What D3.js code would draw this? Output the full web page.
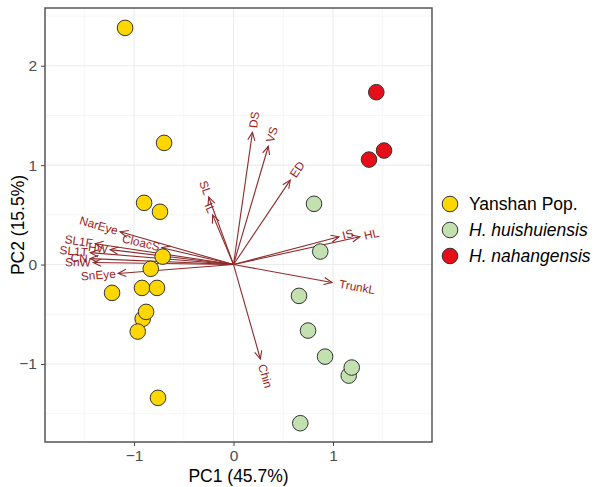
<!DOCTYPE html>
<html>
<head>
<meta charset="utf-8">
<script src="https://cdn.jsdelivr.net/npm/d3@7"></script>
<style>
  body { margin: 0; background: #fff; }
  svg { font-family: "Liberation Sans", Arial, sans-serif; }
</style>
</head>
<body>
<div id="chart"></div>
<script>
// groups, in legend order
var groups = ['Yanshan Pop.', 'H. huishuiensis', 'H. nahangensis'];
var groupColors = ['#FFD700', '#C3E0B1', '#E60F19'];
var groupItalic = [false, true, true];

// individual scores (PC1, PC2)
var yanshanPC1 = [-1.090, -0.698, -0.899, -0.739, -0.712, -0.832, -1.221, -0.920, -0.769, -0.913, -0.879, -0.963, -0.759];
var yanshanPC2 = [2.381, 1.224, 0.621, 0.531, 0.080, -0.043, -0.285, -0.235, -0.235, -0.546, -0.476, -0.674, -1.341];
var huishuiPC1 = [0.809, 0.872, 0.658, 0.749, 0.920, 1.158, 1.188, 0.671];
var huishuiPC2 = [0.611, 0.131, -0.315, -0.664, -0.926, -1.117, -1.036, -1.596];
var nahangPC1 = [1.513, 1.435, 1.362];
var nahangPC2 = [1.147, 1.734, 1.056];

// variable loadings
var varNames = ['DS', 'VS', 'ED', 'SL', 'IL', 'IS', 'HL', 'TrunkL', 'Chin',
  'NarEye', 'CloacS', 'SL1F', 'HW', 'SL1T', 'CN', 'SnW', 'SnEye'];
var varPC1 = [0.19, 0.35, 0.57, -0.25, -0.21, 1.06, 1.27, 0.99, 0.27,
  -1.14, -0.72, -1.39, -1.24, -1.44, -1.44, -1.41, -1.16];
var varPC2 = [1.33, 1.19, 0.85, 0.68, 0.50, 0.28, 0.28, -0.18, -0.95,
  0.33, 0.17, 0.21, 0.15, 0.12, 0.06, 0.02, -0.09];

var xTicks = [-1, 0, 1],
  yTicks = [-1, 0, 1, 2];

var svgWidth = 595,
  svgHeight = 487;

var panel = { left: 45, right: 432, top: 8, bottom: 442 };

var xScale = d3.scaleLinear().domain([-1.895, 1.995]).range([panel.left, panel.right]);
var yScale = d3.scaleLinear().domain([-1.785, 2.581]).range([panel.bottom, panel.top]);

var svg = d3.select('#chart').append('svg')
  .attr('width', svgWidth)
  .attr('height', svgHeight);

// panel background + grid
svg.append('rect')
  .attr('x', panel.left).attr('y', panel.top)
  .attr('width', panel.right - panel.left).attr('height', panel.bottom - panel.top)
  .attr('fill', '#fff');

var minorX = d3.range(-1.5, 2, 1),
  minorY = d3.range(-1.5, 3, 1);

var grid = svg.append('g');
grid.selectAll('.mx').data(minorX).enter().append('line')
  .attr('x1', d => xScale(d)).attr('x2', d => xScale(d))
  .attr('y1', panel.top).attr('y2', panel.bottom)
  .attr('stroke', '#f4f4f4').attr('stroke-width', 0.8);
grid.selectAll('.my').data(minorY).enter().append('line')
  .attr('y1', d => yScale(d)).attr('y2', d => yScale(d))
  .attr('x1', panel.left).attr('x2', panel.right)
  .attr('stroke', '#f4f4f4').attr('stroke-width', 0.8);
grid.selectAll('.gx').data(xTicks).enter().append('line')
  .attr('x1', d => xScale(d)).attr('x2', d => xScale(d))
  .attr('y1', panel.top).attr('y2', panel.bottom)
  .attr('stroke', '#ececec').attr('stroke-width', 1.1);
grid.selectAll('.gy').data(yTicks).enter().append('line')
  .attr('y1', d => yScale(d)).attr('y2', d => yScale(d))
  .attr('x1', panel.left).attr('x2', panel.right)
  .attr('stroke', '#ececec').attr('stroke-width', 1.1);

// arrows
var arrowColor = '#8E2A2A';
svg.append('defs').append('marker')
  .attr('id', 'head')
  .attr('viewBox', '-10 -6 12 12')
  .attr('refX', 0).attr('refY', 0)
  .attr('markerWidth', 12).attr('markerHeight', 12)
  .attr('markerUnits', 'userSpaceOnUse')
  .attr('orient', 'auto')
  .append('path')
  .attr('d', 'M-8,-3.6L0,0L-8,3.6')
  .attr('fill', 'none')
  .attr('stroke', arrowColor)
  .attr('stroke-width', 1.1);

var loadings = varNames.map((n, i) => ({ name: n, x: varPC1[i], y: varPC2[i] }));

svg.append('g').selectAll('line')
  .data(loadings)
  .enter()
  .append('line')
  .attr('x1', xScale(0)).attr('y1', yScale(0))
  .attr('x2', d => xScale(d.x)).attr('y2', d => yScale(d.y))
  .attr('stroke', arrowColor)
  .attr('stroke-width', 1.1)
  .attr('marker-end', 'url(#head)');

// labels: at the tip, rotated like the arrow, pushed a little outward
var labels = svg.append('g').selectAll('text')
  .data(loadings)
  .enter()
  .append('text')
  .attr('fill', '#9B1C1C')
  .attr('font-size', 11.8)
  .attr('dominant-baseline', 'central')
  .attr('text-anchor', d => d.x >= 0 ? 'start' : 'end')
  .text(d => d.name);

labels.each(function(d) {
  var w = this.getComputedTextLength();
  var ang = Math.atan(d.y / d.x) * 180 / Math.PI;
  var dx = d.x >= 0 ? 2 + 0.15 * w : -2.5;
  d3.select(this)
    .attr('transform', `translate(${xScale(d.x)},${yScale(d.y)})rotate(${-ang})`)
    .attr('x', dx).attr('y', 0);
});

// points
var points = [];
yanshanPC1.forEach((v, i) => points.push({ x: v, y: yanshanPC2[i], g: 0 }));
huishuiPC1.forEach((v, i) => points.push({ x: v, y: huishuiPC2[i], g: 1 }));
nahangPC1.forEach((v, i) => points.push({ x: v, y: nahangPC2[i], g: 2 }));

svg.append('g').selectAll('circle')
  .data(points)
  .enter()
  .append('circle')
  .attr('cx', d => xScale(d.x))
  .attr('cy', d => yScale(d.y))
  .attr('r', 7.8)
  .attr('fill', d => groupColors[d.g])
  .attr('stroke', '#333')
  .attr('stroke-width', 1);

// panel border
svg.append('rect')
  .attr('x', panel.left).attr('y', panel.top)
  .attr('width', panel.right - panel.left).attr('height', panel.bottom - panel.top)
  .attr('fill', 'none')
  .attr('stroke', '#555')
  .attr('stroke-width', 1.5);

// axes
var fmt = d3.format('d');
var xAxis = svg.append('g')
  .attr('transform', `translate(0,${panel.bottom})`)
  .call(d3.axisBottom(xScale).tickValues(xTicks).tickFormat(fmt).tickSizeOuter(0).tickSize(4).tickPadding(4));
var yAxis = svg.append('g')
  .attr('transform', `translate(${panel.left},0)`)
  .call(d3.axisLeft(yScale).tickValues(yTicks).tickFormat(fmt).tickSizeOuter(0).tickSize(4).tickPadding(4));

[xAxis, yAxis].forEach(a => {
  a.select('.domain').remove();
  a.selectAll('line').attr('stroke', '#444');
  a.selectAll('text')
    .attr('fill', '#4D4D4D')
    .attr('font-size', 15.5)
    .attr('font-family', '"Liberation Sans", Arial, sans-serif');
});

// axis titles
svg.append('text')
  .attr('x', (panel.left + panel.right) / 2)
  .attr('y', 482)
  .attr('text-anchor', 'middle')
  .attr('font-size', 17.5)
  .attr('fill', '#000')
  .text('PC1 (45.7%)');

svg.append('text')
  .attr('transform', `translate(24,${(panel.top + panel.bottom) / 2})rotate(-90)`)
  .attr('text-anchor', 'middle')
  .attr('font-size', 17.5)
  .attr('fill', '#000')
  .text('PC2 (15.5%)');

// legend
var legend = svg.append('g').selectAll('g')
  .data(groups)
  .enter()
  .append('g')
  .attr('transform', (d, i) => `translate(450,${204 + i * 26})`);

legend.append('circle')
  .attr('r', 7.8)
  .attr('fill', (d, i) => groupColors[i])
  .attr('stroke', '#333')
  .attr('stroke-width', 1);

legend.append('text')
  .attr('x', 19)
  .attr('y', 0)
  .attr('dominant-baseline', 'central')
  .attr('font-size', 17.5)
  .attr('font-style', (d, i) => groupItalic[i] ? 'italic' : 'normal')
  .text(d => d);
</script>
</body>
</html>
